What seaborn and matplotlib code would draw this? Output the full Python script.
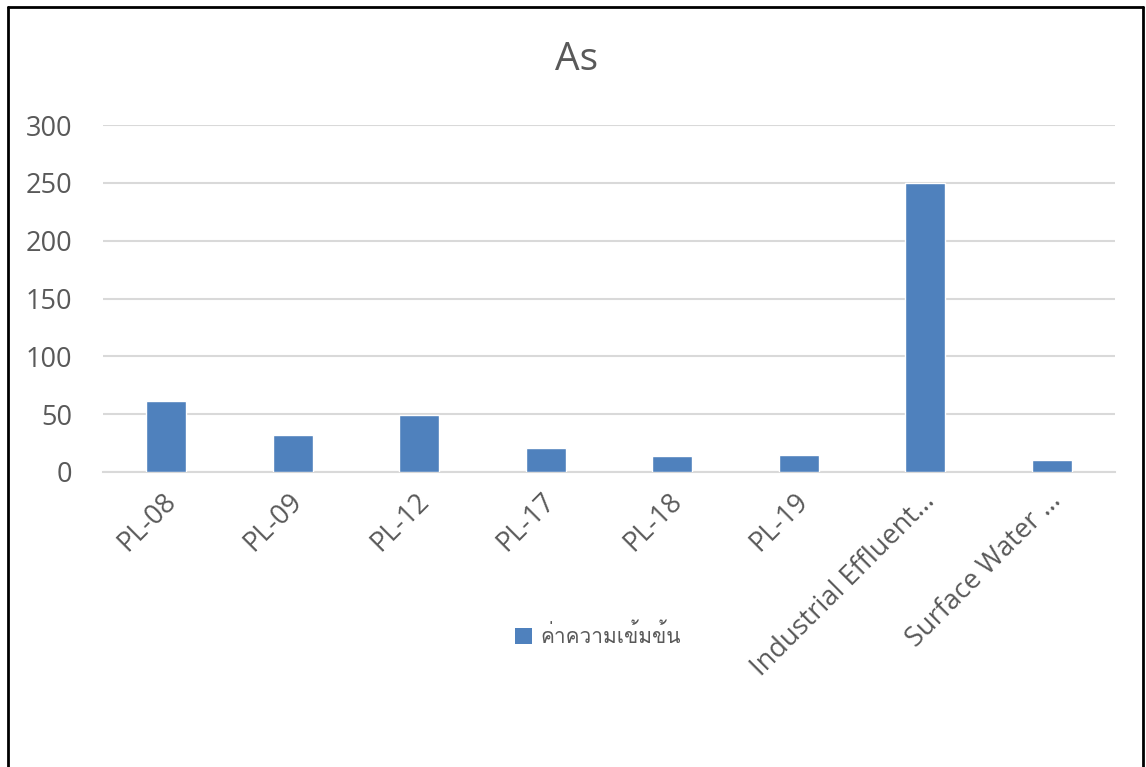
import matplotlib
matplotlib.use("Agg")
import matplotlib.pyplot as plt
from matplotlib import font_manager
from matplotlib.ft2font import FT2Font
from matplotlib.lines import Line2D
from matplotlib.patches import Patch
from matplotlib.transforms import ScaledTranslation
import seaborn as sns
import pandas as pd

# ---- data ----
sites = ["PL-08", "PL-09", "PL-12", "PL-17", "PL-18", "PL-19",
         "Industrial Effluent…", "Surface Water …"]
values = [61, 32, 49, 21, 14, 14.5, 250, 10]
series_name = "ค่าความเข้มข้น"
title = "As"
yticks = [0, 50, 100, 150, 200, 250, 300]

df = pd.DataFrame({"site": sites, "value": values})

sns.set_theme(style="white")
base_font = "Open Sans"

# find a font that has Thai glyphs, if any is installed
thai_font = None
for fe in font_manager.fontManager.ttflist:
    try:
        f = FT2Font(fe.fname)
        if 0x0E04 in f.get_charmap():
            thai_font = fe.name
            break
    except Exception:
        continue

plt.rcParams["font.family"] = [base_font, "DejaVu Sans"]
text_color = "#595959"
bar_color = "#4f81bd"
grid_color = "#d9d9d9"

W, H = 1146, 767
fig = plt.figure(figsize=(W / 100, H / 100), dpi=100)
ax = fig.add_axes([103 / W, 1 - 472 / H, (1115 - 103) / W, (472 - 125) / H])

sns.barplot(data=df, x="site", y="value", color=bar_color, width=0.316,
            saturation=1, ax=ax, zorder=3)

ax.set_ylim(0, 300)
ax.set_xlim(-0.5, len(sites) - 0.5)
ax.set_yticks(yticks)
ax.set_yticklabels([str(v) for v in yticks], fontsize=19.5, color=text_color)
ax.yaxis.grid(True, color=grid_color, linewidth=1.5, zorder=0)
ax.set_axisbelow(True)
for s in ["top", "right", "left"]:
    ax.spines[s].set_visible(False)
ax.spines["bottom"].set_color(grid_color)
ax.spines["bottom"].set_linewidth(1.5)
ax.tick_params(axis="x", length=0, pad=6)
ax.tick_params(axis="y", length=0, pad=22)
ax.set_xlabel("")
ax.set_ylabel("")
ax.set_xticks(range(len(sites)))
ax.set_xticklabels(sites, rotation=45, ha="right", rotation_mode="anchor",
                   fontsize=19.5, color=text_color)
off = ScaledTranslation(-3 / 72, -5 / 72, fig.dpi_scale_trans)
for lab in ax.get_xticklabels():
    lab.set_transform(lab.get_transform() + off)

fig.text(577 / W, 1 - 60 / H, title, ha="center", va="center",
         fontsize=28, color=text_color)

legend_family = [thai_font, base_font, "DejaVu Sans"] if thai_font else [base_font, "DejaVu Sans"]
handle = Patch(facecolor=bar_color, edgecolor="none", label=series_name)
leg = fig.legend(handles=[handle], loc="center",
                 bbox_to_anchor=(598 / W, 1 - 635 / H), frameon=False,
                 handlelength=0.8, handleheight=0.8, handletextpad=0.4,
                 prop={"family": legend_family, "size": 15})
for t in leg.get_texts():
    t.set_color(text_color)

# outer frame
lw = 2
fig.add_artist(Line2D([8 / W, 8 / W], [0, 1 - 7 / H], color="black", lw=lw, transform=fig.transFigure))
fig.add_artist(Line2D([8 / W, 1143 / W], [1 - 7 / H, 1 - 7 / H], color="black", lw=lw, transform=fig.transFigure))
fig.add_artist(Line2D([1143 / W, 1143 / W], [0, 1 - 7 / H], color="black", lw=lw, transform=fig.transFigure))

fig.savefig("out.png", dpi=100, facecolor="white")
